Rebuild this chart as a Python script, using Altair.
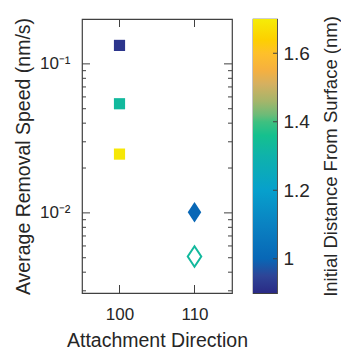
import altair as alt
import pandas as pd

# ---- data ----
direction = [100, 100, 100, 110, 110]
speed = [0.133, 0.054, 0.0248, 0.0101, 0.0051]
distance = [0.92, 1.33, 1.69, 1.0, 1.33]
marker = ["square", "square", "square", "diamond", "open"]

y_major = [0.01, 0.1]
y_minor = [0.003, 0.004, 0.005, 0.006, 0.007, 0.008, 0.009,
           0.02, 0.03, 0.04, 0.05, 0.06, 0.07, 0.08, 0.09]
x_ticks = [100, 110]
cb_ticks = [1.0, 1.2, 1.4, 1.6]

# parula-like colour stops (value -> colour)
cmap_vals = [0.9, 0.95, 1.0, 1.1, 1.2, 1.3, 1.36, 1.4, 1.42, 1.46, 1.51, 1.55, 1.6, 1.64, 1.7]
cmap_cols = ["#2a2a85", "#2e4597", "#0867b6", "#0a82c2", "#07a0cc", "#0fb2ab", "#15c08e",
             "#3fc080", "#6cbb78", "#a5b56a", "#d5b060", "#f5b040", "#fec02a", "#fdd000", "#f5ec08"]

FONT = "Liberation Sans"
INK = "#262626"
FRAME = "#404040"
W, H = 150, 274
CBW = 24

df = pd.DataFrame({"dir": direction, "speed": speed, "dist": distance, "marker": marker})
ymaj = pd.DataFrame({"v": y_major})
ymin = pd.DataFrame({"v": y_minor})
xt = pd.DataFrame({"v": x_ticks})

color_scale = alt.Scale(domain=cmap_vals, range=cmap_cols, interpolate="rgb")
xscale = alt.Scale(domain=[95, 115])
yscale = alt.Scale(type="log", domain=[0.0029, 0.2])

xaxis = alt.Axis(values=x_ticks, format="d", ticks=False, tickSize=0, domain=False, grid=False,
                 labelFont=FONT, labelFontSize=17, labelColor=INK, labelPadding=13,
                 title="Attachment Direction", titleFont=FONT, titleFontSize=19.5,
                 titleFontWeight="normal", titleColor=INK, titlePadding=9)
yaxis = alt.Axis(values=y_major, labelExpr="datum.value > 0.05 ? '10⁻¹' : '10⁻²'",
                 ticks=False, tickSize=0, domain=False, grid=False,
                 labelFont=FONT, labelFontSize=17, labelColor=INK, labelPadding=12,
                 title="Average Removal Speed (nm/s)", titleFont=FONT, titleFontSize=19.5,
                 titleFontWeight="normal", titleColor=INK, titlePadding=6)

base = alt.Chart(df).encode(
    x=alt.X("dir:Q", scale=xscale, axis=xaxis),
    y=alt.Y("speed:Q", scale=yscale, axis=yaxis),
    color=alt.Color("dist:Q", scale=color_scale, legend=None),
)

squares = base.transform_filter(alt.datum.marker == "square").mark_square(
    size=125, filled=True, opacity=1)
DIAMOND = "M0,-1L0.66,0L0,1L-0.66,0Z"
dfill = base.transform_filter(alt.datum.marker == "diamond").mark_point(
    shape=DIAMOND, size=420, filled=True, opacity=1)
dopen = base.transform_filter(alt.datum.marker == "open").mark_point(
    shape=DIAMOND, size=420, filled=False, opacity=1, strokeWidth=2)

def yticks(frame, length):
    left = alt.Chart(frame).mark_rule(color=FRAME, strokeWidth=1).encode(
        y=alt.Y("v:Q", scale=yscale), x=alt.value(0), x2=alt.value(length))
    right = alt.Chart(frame).mark_rule(color=FRAME, strokeWidth=1).encode(
        y=alt.Y("v:Q", scale=yscale), x=alt.value(W - length), x2=alt.value(W))
    return left + right

xtb = alt.Chart(xt).mark_rule(color=FRAME, strokeWidth=1).encode(
    x=alt.X("v:Q", scale=xscale), y=alt.value(H), y2=alt.value(H - 8))
xtt = alt.Chart(xt).mark_rule(color=FRAME, strokeWidth=1).encode(
    x=alt.X("v:Q", scale=xscale), y=alt.value(0), y2=alt.value(8))

main = alt.layer(yticks(ymaj, 8), yticks(ymin, 4), xtb, xtt, squares, dfill, dopen).properties(
    width=W, height=H)

# ---- colour bar ----
lo, hi = cmap_vals[0], cmap_vals[-1]
stops = [{"offset": (v - lo) / (hi - lo), "color": c} for v, c in zip(cmap_vals, cmap_cols)]
cb_df = pd.DataFrame({"lo": [lo], "hi": [hi]})
cb_scale = alt.Scale(domain=[lo, hi], nice=False, zero=False)
cb_axis = alt.Axis(orient="right", values=cb_ticks, format="~g", ticks=False, tickSize=0,
                   domain=False, grid=False, labelFont=FONT, labelFontSize=19, labelColor=INK,
                   labelPadding=6, title="Initial Distance From Surface (nm)", titleFont=FONT,
                   titleFontSize=18.5, titleFontWeight="normal", titleColor=INK, titleAngle=270,
                   titleBaseline="top", titlePadding=12)
bar = alt.Chart(cb_df).mark_rect(
    color={"gradient": "linear", "x1": 0, "x2": 0, "y1": 1, "y2": 0, "stops": stops}
).encode(y=alt.Y("lo:Q", scale=cb_scale, axis=cb_axis), y2="hi:Q",
         x=alt.value(0), x2=alt.value(CBW))
cbt = alt.Chart(pd.DataFrame({"v": cb_ticks})).mark_rule(color=FRAME, strokeWidth=1).encode(
    y=alt.Y("v:Q", scale=cb_scale), x=alt.value(CBW - 4), x2=alt.value(CBW))
colorbar = alt.layer(bar, cbt).properties(width=CBW, height=H)

chart = alt.hconcat(main, colorbar, spacing=21, bounds="flush").properties(
    padding={"left": 12, "top": 15, "right": 0, "bottom": 0},
    background="white",
).configure_view(stroke=FRAME, strokeWidth=1.2)

chart.save("out.html", embed_options={"renderer": "svg", "actions": False})
